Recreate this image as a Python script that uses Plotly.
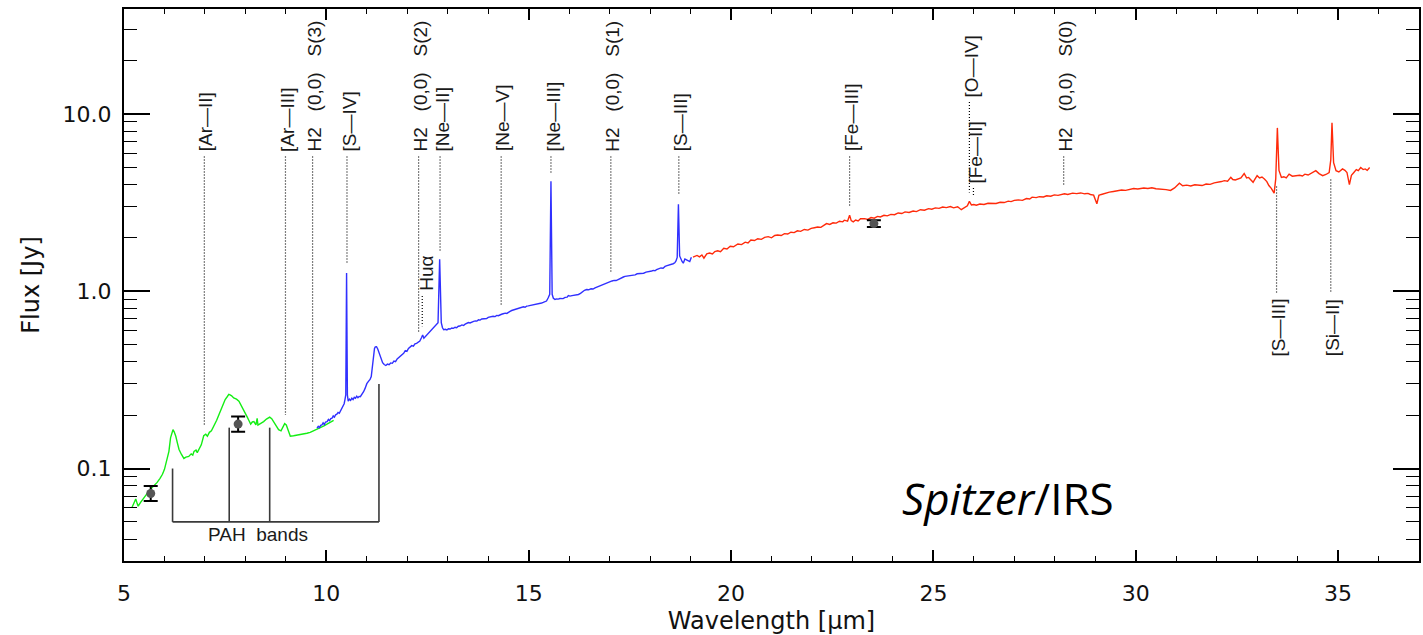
import numpy as np
import plotly.graph_objects as go

# ---------------------------------------------------------------------------
# Spectrum segments (wavelength in micron, flux density in Jy)
# ---------------------------------------------------------------------------
sl_wl = [5.20, 5.25, 5.29, 5.33, 5.35, 5.41, 5.49, 5.57, 5.66, 5.74, 5.82, 5.89,
         5.95, 6.00, 6.05, 6.11, 6.15, 6.19, 6.21, 6.24, 6.28, 6.32, 6.36, 6.42,
         6.48, 6.53, 6.60, 6.66, 6.70, 6.73, 6.78, 6.81, 6.86, 6.91, 6.97, 7.02,
         7.06, 7.11, 7.16, 7.20, 7.24, 7.29, 7.34, 7.40, 7.45, 7.50, 7.55, 7.59,
         7.62, 7.66, 7.71, 7.78, 7.84, 7.89, 7.94, 7.99, 8.04, 8.09, 8.13, 8.17,
         8.21, 8.26, 8.29, 8.31, 8.38, 8.45, 8.52, 8.60, 8.65, 8.70, 8.76, 8.82,
         8.88, 8.93, 8.97, 9.01, 9.05, 9.11, 9.19, 9.28, 9.36, 9.44, 9.52, 9.60,
         9.69, 9.77, 9.85, 9.94, 10.02, 10.10, 10.18]
sl_flux = [0.0605, 0.0650, 0.0673, 0.0630, 0.0613, 0.0645, 0.0688, 0.0722, 0.0766,
           0.0800, 0.0835, 0.0880, 0.0928, 0.0990, 0.1090, 0.1250, 0.1490, 0.1640,
           0.1655, 0.1610, 0.1520, 0.1390, 0.1280, 0.1200, 0.1140, 0.1160, 0.1170,
           0.1210, 0.1190, 0.1250, 0.1270, 0.1230, 0.1300, 0.1360, 0.1530, 0.1560,
           0.1520, 0.1600, 0.1630, 0.1700, 0.1760, 0.1870, 0.2000, 0.2180, 0.2330,
           0.2450, 0.2540, 0.2620, 0.2600, 0.2570, 0.2500, 0.2460, 0.2400, 0.2290,
           0.2190, 0.2070, 0.1960, 0.1860, 0.1780, 0.1830, 0.1840, 0.1760, 0.1920,
           0.1760, 0.1790, 0.1840, 0.1900, 0.1950, 0.1910, 0.1840, 0.1740, 0.1655,
           0.1630, 0.1720, 0.1790, 0.1760, 0.1650, 0.1520, 0.1530, 0.1540, 0.1550,
           0.1565, 0.1580, 0.1600, 0.1630, 0.1660, 0.1700, 0.1740, 0.1780, 0.1830,
           0.1870]

sh_wl = [9.77, 9.80, 9.83, 9.86, 9.89, 9.92, 9.95, 9.98, 10.02, 10.05, 10.08, 10.11,
         10.14, 10.17, 10.20, 10.23, 10.26, 10.29, 10.32, 10.35, 10.39, 10.42, 10.44,
         10.46, 10.48, 10.50, 10.52, 10.54, 10.57, 10.60, 10.63, 10.66, 10.69, 10.72,
         10.75, 10.78, 10.81, 10.84, 10.88, 10.92, 10.96, 11.00, 11.04, 11.08, 11.11,
         11.14, 11.17, 11.19, 11.21, 11.24, 11.27, 11.30, 11.33, 11.36, 11.39, 11.43,
         11.47, 11.51, 11.55, 11.59, 11.63, 11.67, 11.71, 11.75, 11.79, 11.83, 11.87,
         11.91, 11.95, 11.99, 12.03, 12.07, 12.11, 12.15, 12.19, 12.23, 12.27, 12.31,
         12.35, 12.38, 12.41, 12.44, 12.48, 12.52, 12.56, 12.60, 12.64, 12.68, 12.72,
         12.76, 12.80, 12.84, 12.87, 12.90, 12.94, 12.98, 13.02, 13.06, 13.10, 13.14,
         13.18, 13.22, 13.26, 13.30, 13.35, 13.39, 13.43, 13.47, 13.51, 13.55, 13.60,
         13.64, 13.68, 13.72, 13.76, 13.80, 13.84, 13.88, 13.92, 13.96, 14.00, 14.04,
         14.08, 14.12, 14.17, 14.21, 14.25, 14.29, 14.33, 14.37, 14.42, 14.46, 14.50,
         14.54, 14.58, 14.62, 14.66, 14.70, 14.75, 14.79, 14.83, 14.87, 14.91, 14.95,
         14.99, 15.03, 15.07, 15.11, 15.15, 15.19, 15.24, 15.28, 15.32, 15.36, 15.40,
         15.44, 15.48, 15.52, 15.55, 15.58, 15.61, 15.65, 15.69, 15.73, 15.77, 15.81,
         15.85, 15.90, 15.95, 15.98, 16.02, 16.07, 16.12, 16.17, 16.23, 16.28, 16.33,
         16.38, 16.43, 16.48, 16.54, 16.59, 16.64, 16.69, 16.74, 16.79, 16.84, 16.89,
         16.93, 16.97, 17.01, 17.06, 17.11, 17.16, 17.21, 17.26, 17.30, 17.34, 17.38,
         17.43, 17.48, 17.53, 17.58, 17.63, 17.68, 17.73, 17.79, 17.84, 17.90, 17.95,
         18.00, 18.04, 18.08, 18.12, 18.16, 18.21, 18.27, 18.32, 18.37, 18.42, 18.47,
         18.52, 18.57, 18.61, 18.64, 18.67, 18.70, 18.73, 18.76, 18.79, 18.82, 18.86,
         18.90, 18.94, 18.98, 19.02]
sh_flux = [0.169, 0.173, 0.170, 0.175, 0.176, 0.181, 0.177, 0.183, 0.184, 0.189, 0.186,
           0.191, 0.192, 0.198, 0.195, 0.201, 0.2025, 0.207, 0.205, 0.212, 0.219, 0.226,
           0.232, 0.245, 0.260, 1.265, 0.260, 0.240, 0.246, 0.242, 0.249, 0.245, 0.252,
           0.249, 0.256, 0.251, 0.255, 0.254, 0.262, 0.271, 0.284, 0.301, 0.310, 0.318,
           0.330, 0.3815, 0.440, 0.475, 0.485, 0.486, 0.472, 0.452, 0.428, 0.408, 0.395,
           0.386, 0.381, 0.388, 0.385, 0.394, 0.392, 0.404, 0.401, 0.415, 0.422, 0.430,
           0.438, 0.446, 0.462, 0.458, 0.476, 0.482, 0.493, 0.490, 0.505, 0.508, 0.516,
           0.524, 0.546, 0.566, 0.543, 0.552, 0.566, 0.582, 0.596, 0.605, 0.620, 0.628,
           0.642, 0.665, 1.514, 0.665, 0.622, 0.606, 0.610, 0.605, 0.614, 0.612, 0.620,
           0.617, 0.626, 0.622, 0.634, 0.636, 0.645, 0.641, 0.652, 0.658, 0.665, 0.662,
           0.672, 0.676, 0.680, 0.678, 0.690, 0.687, 0.697, 0.700, 0.704, 0.701, 0.712,
           0.716, 0.714, 0.722, 0.719, 0.730, 0.727, 0.738, 0.741, 0.746, 0.752, 0.749,
           0.764, 0.770, 0.778, 0.783, 0.790, 0.787, 0.799, 0.803, 0.807, 0.816, 0.812,
           0.824, 0.826, 0.830, 0.834, 0.832, 0.840, 0.838, 0.845, 0.852, 0.858, 0.864,
           0.872, 0.880, 0.915, 0.960, 4.16, 0.960, 0.912, 0.899, 0.905, 0.902, 0.909,
           0.912, 0.908, 0.922, 0.926, 0.945, 0.938, 0.944, 0.948, 0.955, 0.958, 0.972,
           0.995, 1.012, 1.022, 1.018, 1.032, 1.028, 1.044, 1.056, 1.066, 1.078, 1.090,
           1.098, 1.112, 1.122, 1.137, 1.142, 1.150, 1.148, 1.163, 1.182, 1.190, 1.202,
           1.212, 1.218, 1.226, 1.222, 1.240, 1.236, 1.253, 1.258, 1.266, 1.262, 1.281,
           1.285, 1.293, 1.300, 1.310, 1.304, 1.322, 1.338, 1.352, 1.348, 1.380, 1.394,
           1.401, 1.415, 1.428, 1.445, 1.480, 1.550, 3.09, 1.580, 1.503, 1.470, 1.438,
           1.520, 1.503, 1.482, 1.470, 1.554]

lh_wl = [19.06, 19.10, 19.16, 19.22, 19.28, 19.33, 19.40, 19.47, 19.54, 19.60, 19.67,
         19.74, 19.82, 19.90, 19.98, 20.06, 20.17, 20.26, 20.35, 20.42, 20.49, 20.58,
         20.66, 20.75, 20.83, 20.92, 21.00, 21.08, 21.15, 21.24, 21.32, 21.40, 21.48,
         21.56, 21.64, 21.72, 21.81, 21.90, 21.98, 22.06, 22.14, 22.22, 22.30, 22.36,
         22.44, 22.52, 22.60, 22.68, 22.76, 22.80, 22.88, 22.93, 22.97, 23.02, 23.08,
         23.14, 23.20, 23.30, 23.38, 23.46, 23.54, 23.62, 23.69, 23.78, 23.86, 23.95,
         24.04, 24.13, 24.22, 24.30, 24.40, 24.50, 24.58, 24.68, 24.78, 24.88, 24.96,
         25.05, 25.14, 25.23, 25.32, 25.42, 25.50, 25.60, 25.69, 25.78, 25.84, 25.89,
         25.94, 26.00, 26.06, 26.15, 26.25, 26.35, 26.45, 26.55, 26.65, 26.75, 26.85,
         26.92, 27.00, 27.10, 27.20, 27.30, 27.38, 27.44, 27.54, 27.62, 27.72, 27.80,
         27.90, 27.99, 28.08, 28.16, 28.24, 28.32, 28.44, 28.54, 28.64, 28.74, 28.82,
         28.88, 28.96, 29.04, 29.09, 29.15, 29.25, 29.35, 29.45, 29.55, 29.65, 29.75,
         29.85, 29.95, 30.05, 30.20, 30.30, 30.40, 30.50, 30.64, 30.75, 30.86, 30.96,
         31.08, 31.16, 31.26, 31.36, 31.46, 31.56, 31.64, 31.74, 31.84, 31.94, 32.04,
         32.12, 32.19, 32.27, 32.35, 32.40, 32.46, 32.52, 32.60, 32.68, 32.74, 32.79,
         32.85, 32.90, 32.95, 33.00, 33.06, 33.12, 33.18, 33.24, 33.29, 33.35, 33.42,
         33.46, 33.50, 33.54, 33.60, 33.66, 33.72, 33.79, 33.87, 33.95, 34.05, 34.12,
         34.18, 34.26, 34.36, 34.45, 34.53, 34.62, 34.70, 34.78, 34.82, 34.85, 34.89,
         34.95, 35.02, 35.11, 35.17, 35.22, 35.28, 35.33, 35.39, 35.45, 35.50, 35.56,
         35.62, 35.67, 35.72, 35.78]
lh_flux = [1.555, 1.568, 1.590, 1.560, 1.600, 1.534, 1.625, 1.640, 1.620, 1.672, 1.690,
           1.670, 1.745, 1.730, 1.790, 1.780, 1.846, 1.830, 1.890, 1.870, 1.943, 1.930,
           1.975, 1.960, 2.010, 2.030, 2.000, 2.060, 2.072, 2.060, 2.110, 2.100, 2.150,
           2.140, 2.190, 2.175, 2.228, 2.210, 2.260, 2.280, 2.300, 2.290, 2.360, 2.405,
           2.380, 2.430, 2.420, 2.480, 2.460, 2.513, 2.480, 2.680, 2.500, 2.459, 2.520,
           2.490, 2.560, 2.566, 2.540, 2.600, 2.580, 2.640, 2.620, 2.680, 2.660, 2.710,
           2.700, 2.760, 2.740, 2.800, 2.780, 2.830, 2.810, 2.880, 2.860, 2.920, 2.900,
           2.950, 2.930, 2.980, 2.960, 3.000, 2.950, 2.990, 2.880, 2.980, 3.030, 3.210,
           3.060, 3.080, 3.050, 3.100, 3.080, 3.130, 3.140, 3.120, 3.170, 3.160, 3.220,
           3.200, 3.250, 3.270, 3.250, 3.330, 3.310, 3.390, 3.370, 3.410, 3.400, 3.450,
           3.430, 3.490, 3.470, 3.520, 3.540, 3.510, 3.570, 3.550, 3.580, 3.540, 3.560,
           3.510, 3.480, 3.110, 3.470, 3.510, 3.580, 3.620, 3.650, 3.690, 3.720, 3.700,
           3.760, 3.790, 3.770, 3.820, 3.790, 3.830, 3.780, 3.770, 3.740, 3.700, 3.820,
           4.060, 3.930, 3.960, 3.920, 3.980, 3.950, 3.940, 4.020, 4.000, 4.080, 4.110,
           4.150, 4.200, 4.170, 4.380, 4.260, 4.240, 4.300, 4.350, 4.610, 4.350, 4.380,
           4.200, 4.110, 4.300, 4.480, 4.350, 4.400, 4.290, 4.150, 3.940, 3.800, 3.570,
           4.300, 8.330, 4.800, 4.380, 4.420, 4.350, 4.570, 4.450, 4.480, 4.500, 4.460,
           4.570, 4.520, 4.650, 4.780, 4.600, 4.480, 4.550, 4.670, 5.500, 8.890, 5.300,
           4.780, 4.700, 4.890, 4.800, 4.670, 3.990, 4.500, 4.670, 4.850, 4.780, 4.980,
           4.850, 4.890, 4.800, 4.980]

# Broad-band photometry with uncertainties
phot_wl = [5.66, 7.82, 23.53]
phot_flux = [0.0723, 0.178, 2.405]
phot_err_plus = [0.0075, 0.0187, 0.108]
phot_err_minus = [0.0068, 0.0170, 0.104]

# Line identifications marked above the spectrum
lines_above = ["[Ar—II]", "[Ar—III]", "H2   (0,0)   S(3)", "[S—IV]",
               "H2   (0,0)   S(2)", "[Ne—II]", "Huα", "[Ne—V]", "[Ne—III]",
               "H2   (0,0)   S(1)", "[S—III]", "[Fe—III]", "[O—IV]", "[Fe—II]",
               "H2   (0,0)   S(0)"]
lines_above_wl = [6.985, 8.99, 9.66, 10.51, 12.28, 12.81, 12.37, 14.32, 15.55,
                  17.03, 18.71, 22.93, 25.89, 25.99, 28.22]

# Line identifications marked below the spectrum
lines_below = ["[S—III]", "[Si—II]"]
lines_below_wl = [33.48, 34.82]

# PAH emission features
pah_wl = [6.2, 7.6, 8.6, 11.3]

# ---------------------------------------------------------------------------
# Layout / style settings
# ---------------------------------------------------------------------------
W, H = 1423, 635
M_L, M_R, M_T, M_B = 124, 2, 9, 68
PLOT_H = H - M_T - M_B
X_RANGE = [5, 37]
Y_RANGE = [np.log10(0.0301), np.log10(39.0)]

GREEN, BLUE, RED = "#14ee14", "#3030ff", "#ff2a0a"
LABEL_FONT = dict(family="Liberation Sans", size=19, color="#1a1a1a")
TICK_FONT = dict(family="DejaVu Sans", size=22, color="#111111")
TITLE_FONT = dict(family="DejaVu Sans", size=24, color="#111111")

# label anchor heights (pixels from the top of the page)
LABEL_BOTTOM_PX = 155
LABEL_BOTTOM_OVERRIDE = {"[O—IV]": 100, "[Fe—II]": 187, "Huα": 296}
LABEL_XSHIFT = {"Huα": 4}
BELOW_LABEL_TOP_PX = 300

# PAH bracket tick heights (Jy) and base level
PAH_TOPS = [0.10, 0.17, 0.17, 0.30]
PAH_BASE = 0.05


def px_to_paper(ypx):
    return (H - M_B - ypx) / PLOT_H


def paper_to_flux(p):
    return 10 ** (Y_RANGE[0] + p * (Y_RANGE[1] - Y_RANGE[0]))


all_wl = np.array(sl_wl + sh_wl + lh_wl)
all_fx = np.array(sl_flux + sh_flux + lh_flux)
order = np.argsort(all_wl)
all_wl, all_fx = all_wl[order], all_fx[order]


def local_peak(w, half=0.06):
    near = all_fx[np.abs(all_wl - w) <= half]
    base = float(np.interp(w, all_wl, all_fx))
    return max(base, near.max()) if near.size else base


def local_level(w, half=0.4):
    near = all_fx[np.abs(all_wl - w) <= half]
    return float(np.median(near))


fig = go.Figure()

# spectrum segments
for wl, fx, col in [(sl_wl, sl_flux, GREEN), (sh_wl, sh_flux, BLUE), (lh_wl, lh_flux, RED)]:
    fig.add_trace(go.Scatter(x=wl, y=fx, mode="lines",
                             line=dict(color=col, width=1.4), hoverinfo="skip"))

# dotted markers connecting the line labels with the spectrum
dx, dy = [], []
annotations = []
for name, w in zip(lines_above, lines_above_wl):
    bottom_px = LABEL_BOTTOM_OVERRIDE.get(name, LABEL_BOTTOM_PX)
    p = px_to_paper(bottom_px)
    dx += [w, w, None]
    dy += [paper_to_flux(px_to_paper(bottom_px + 3)), local_peak(w) * 1.12, None]
    annotations.append(dict(x=w, y=p, xref="x", yref="paper", text=name,
                            textangle=-90, showarrow=False, xanchor="center",
                            yanchor="bottom", font=LABEL_FONT,
                            xshift=LABEL_XSHIFT.get(name, 2)))
for name, w in zip(lines_below, lines_below_wl):
    p = px_to_paper(BELOW_LABEL_TOP_PX)
    dx += [w, w, None]
    dy += [local_level(w) / 1.12, paper_to_flux(px_to_paper(BELOW_LABEL_TOP_PX - 4)), None]
    annotations.append(dict(x=w, y=p, xref="x", yref="paper", text=name,
                            textangle=-90, showarrow=False, xanchor="center",
                            yanchor="top", font=LABEL_FONT, xshift=2))

fig.add_trace(go.Scatter(x=dx, y=dy, mode="lines",
                         line=dict(color="black", width=1.2, dash="1px,2px"),
                         hoverinfo="skip"))

# PAH band bracket
px_, py_ = [pah_wl[0], pah_wl[-1], None], [PAH_BASE, PAH_BASE, None]
for w, top in zip(pah_wl, PAH_TOPS):
    px_ += [w, w, None]
    py_ += [PAH_BASE, top, None]
fig.add_trace(go.Scatter(x=px_, y=py_, mode="lines",
                         line=dict(color="#3a3a3a", width=1.6), hoverinfo="skip"))
annotations.append(dict(x=(pah_wl[0] + pah_wl[-1]) / 2 - 0.45, y=px_to_paper(540),
                        xref="x", yref="paper", text="PAH\u00a0\u00a0bands",
                        showarrow=False, font=LABEL_FONT, xanchor="center",
                        yanchor="middle"))

# photometry
fig.add_trace(go.Scatter(
    x=phot_wl, y=phot_flux, mode="markers",
    marker=dict(color="#555555", size=9),
    error_y=dict(type="data", array=phot_err_plus, arrayminus=phot_err_minus,
                 color="black", thickness=2, width=7),
    hoverinfo="skip"))

# instrument tag
annotations.append(dict(x=26.85, y=px_to_paper(503), xref="x", yref="paper",
                        text="<i>Spitzer</i>/IRS", showarrow=False,
                        font=dict(family="Open Sans", size=44, color="black"),
                        xanchor="center", yanchor="middle"))

# replace regular spaces in labels by non-breaking ones so they are kept
for a in annotations:
    a["text"] = a["text"].replace(" ", "\u00a0")

x_minor = [v for v in range(6, 37) if v % 5]
y_minor = [m * 10.0 ** e for e in (-2, -1, 0, 1) for m in range(2, 10)]
y_minor = [v for v in y_minor if 0.03 <= v <= 39]

fig.update_layout(
    width=W, height=H,
    margin=dict(l=M_L, r=M_R, t=M_T, b=M_B),
    paper_bgcolor="white", plot_bgcolor="white",
    showlegend=False,
    annotations=annotations,
    xaxis=dict(
        range=X_RANGE, tickmode="array", tickvals=[5, 10, 15, 20, 25, 30, 35],
        ticks="inside", ticklen=11, tickwidth=1.8, tickcolor="black",
        minor=dict(tickmode="array", tickvals=x_minor, ticks="inside",
                   ticklen=5, tickwidth=1.4, tickcolor="black"),
        showline=True, linecolor="black", linewidth=2, mirror="allticks",
        showgrid=False, zeroline=False, tickfont=TICK_FONT,
        ticklabelstandoff=12,
        title=dict(text="Wavelength [μm]", standoff=10, font=TITLE_FONT),
    ),
    yaxis=dict(
        type="log", range=Y_RANGE, tickmode="array", tickvals=[0.1, 1, 10],
        ticktext=["0.1", "1.0", "10.0"],
        ticks="inside", ticklen=26, tickwidth=1.8, tickcolor="black",
        minor=dict(tickmode="array", tickvals=y_minor, ticks="inside",
                   ticklen=13, tickwidth=1.4, tickcolor="black"),
        showline=True, linecolor="black", linewidth=2, mirror="allticks",
        showgrid=False, zeroline=False, tickfont=TICK_FONT,
        ticklabelstandoff=6,
        title=dict(text="Flux [Jy]", standoff=16, font=TITLE_FONT),
    ),
)

fig.write_html("out.html")
